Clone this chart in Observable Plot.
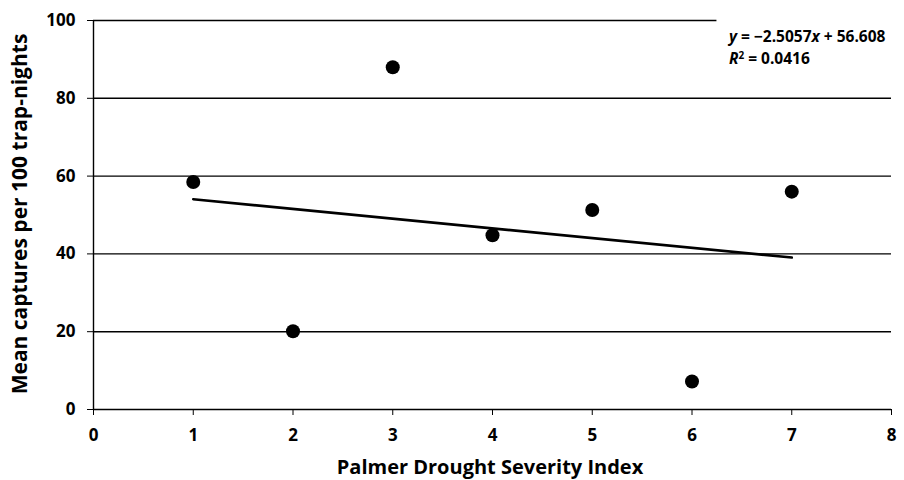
<!DOCTYPE html>
<html>
<head>
<meta charset="utf-8">
<script src="https://cdn.jsdelivr.net/npm/d3@7"></script>
<script src="https://cdn.jsdelivr.net/npm/@observablehq/plot@0.6"></script>
<style>
  html, body { margin: 0; padding: 0; background: #fff; }
  svg { font-family: "Open Sans", sans-serif; }
</style>
</head>
<body>
<div id="chart"></div>
<script>
const pdsi = [1, 2, 3, 4, 5, 6, 7];
const captures = [58.5, 20.1, 88, 44.8, 51.3, 7.2, 56];
const xTicks = [0, 1, 2, 3, 4, 5, 6, 7, 8];
const yTicks = [0, 20, 40, 60, 80, 100];
const gridFull = [20, 40, 60, 80];
const gridTop = [100];

const data = pdsi.map((x, i) => ({x, y: captures[i]}));

const chart = Plot.plot({
  width: 904,
  height: 480,
  marginLeft: 93,
  marginRight: 13,
  marginTop: 20,
  marginBottom: 71,
  style: {fontFamily: "'Open Sans', sans-serif", fontSize: "17px", fontWeight: "bold", color: "#000", background: "#fff"},
  x: {domain: [0, 8], ticks: xTicks, label: null, tickSize: 6, tickPadding: 13},
  y: {domain: [0, 100], ticks: yTicks, label: null, tickSize: 6, tickPadding: 12},
  marks: [
    Plot.ruleY(gridFull, {stroke: "#000", strokeWidth: 1.4}),
    Plot.ruleY(gridTop, {x1: 0, x2: 6.25, stroke: "#000", strokeWidth: 1.6}),
    Plot.ruleY([0], {stroke: "#000", strokeWidth: 1.4}),
    Plot.ruleX([0], {stroke: "#000", strokeWidth: 1.4}),
    Plot.linearRegressionY(data, {x: "x", y: "y", ci: 0, stroke: "#000", strokeWidth: 2.6}),
    Plot.dot(data, {x: "x", y: "y", r: 7, fill: "#000", stroke: "none"})
  ]
});

const svg = d3.select(chart);
svg.selectAll("[aria-label='x-axis tick label'], [aria-label='y-axis tick label']")
  .attr("font-weight", "bold").attr("font-size", "17px");

// Regression equation annotation
const eq = svg.append("g").attr("font-size", "15.5px").attr("font-weight", "bold")
  .attr("fill", "#000").attr("text-anchor", "start");
const t1 = eq.append("text").attr("x", 729).attr("y", 42);
t1.append("tspan").attr("font-style", "italic").text("y");
t1.append("tspan").text(" = −2.5057");
t1.append("tspan").attr("font-style", "italic").text("x");
t1.append("tspan").text(" + 56.608");
const t2 = eq.append("text").attr("x", 729).attr("y", 64);
t2.append("tspan").attr("font-style", "italic").text("R");
t2.append("tspan").attr("dy", -5).attr("font-size", "10px").text("2");
t2.append("tspan").attr("dy", 5).text(" = 0.0416");

// Axis titles
svg.append("text").attr("x", 490).attr("y", 474).attr("text-anchor", "middle")
  .attr("font-size", "20px").attr("font-weight", "bold").text("Palmer Drought Severity Index");
svg.append("text").attr("transform", "translate(27,214) rotate(-90)").attr("text-anchor", "middle")
  .attr("font-size", "21px").attr("font-weight", "bold").text("Mean captures per 100 trap-nights");

document.getElementById("chart").appendChild(chart);
</script>
</body>
</html>
